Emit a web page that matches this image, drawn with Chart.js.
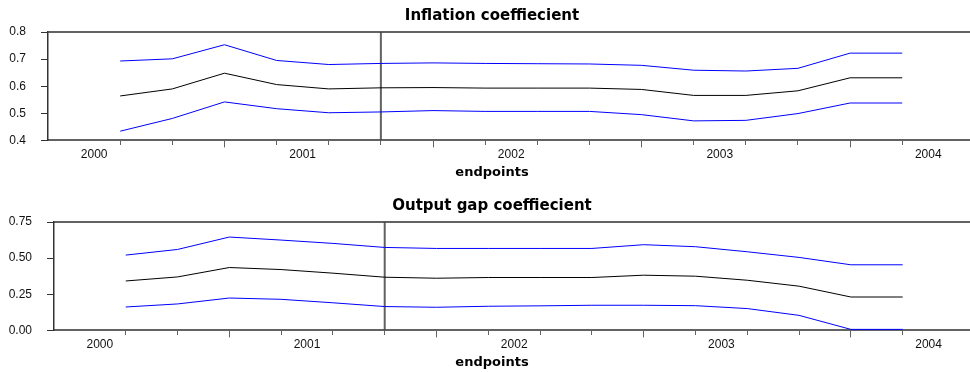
<!DOCTYPE html>
<html><head><meta charset="utf-8">
<script src="https://cdn.jsdelivr.net/npm/chart.js@4"></script>
<style>
html,body{margin:0;padding:0;background:#fff;width:970px;height:372px;overflow:hidden}
.panel{position:absolute;left:0;width:970px;height:182px}
canvas{display:block}
</style></head><body>
<div class="panel" style="top:0"><canvas id="c1" width="970" height="182"></canvas></div>
<div class="panel" style="top:190px"><canvas id="c2" width="970" height="182"></canvas></div>
<script>
// ---- data ----
const QUARTERS = ['2000Q3','2000Q4','2001Q1','2001Q2','2001Q3','2001Q4','2002Q1','2002Q2',
                  '2002Q3','2002Q4','2003Q1','2003Q2','2003Q3','2003Q4','2004Q1','2004Q2'];
const YEARS = ['2000','2001','2002','2003','2004'];
const MARKER_QUARTER = '2001Q4';

const INFL_UPPER = [0.693,0.701,0.753,0.695,0.680,0.684,0.686,0.684,0.683,0.682,0.677,0.659,0.656,0.666,0.722,0.722];
const INFL_MID   = [0.564,0.590,0.648,0.606,0.590,0.594,0.595,0.593,0.593,0.593,0.588,0.566,0.566,0.583,0.631,0.631];
const INFL_LOWER = [0.434,0.481,0.542,0.517,0.502,0.505,0.510,0.507,0.507,0.507,0.495,0.472,0.474,0.499,0.538,0.538];
const INFL_TICKS = [0.4,0.5,0.6,0.7,0.8];

const GAP_UPPER = [0.521,0.560,0.646,0.625,0.602,0.574,0.567,0.567,0.567,0.567,0.593,0.579,0.544,0.505,0.454,0.454];
const GAP_MID   = [0.342,0.370,0.435,0.421,0.396,0.368,0.361,0.366,0.366,0.366,0.382,0.375,0.347,0.306,0.231,0.231];
const GAP_LOWER = [0.162,0.183,0.224,0.215,0.191,0.165,0.160,0.167,0.170,0.174,0.174,0.171,0.151,0.104,0.007,0.007];
const GAP_TICKS = [0,0.25,0.5,0.75];

// ---- helpers ----
function qNum(label){ const y=+label.slice(0,4), q=+label.slice(5); return y*4+q-1; }
const Q0 = qNum(QUARTERS[0]);
function qPos(label){ return qNum(label)-Q0; }
function yearCenter(y){ return qPos(y+'Q1')+1.5; }
const YEAR_POS = YEARS.map(yearCenter);
const Q1_POS = QUARTERS.filter(q=>q.endsWith('Q1')).map(qPos);

const AXIS_COLOR = 'rgba(70,70,70,0.85)';
Chart.defaults.font.family = '"Liberation Sans", Arial, sans-serif';
Chart.defaults.color = '#111';

const frameTop = {
  id:'frameTop',
  afterDatasetsDraw(chart){
    const a = chart.chartArea, ctx = chart.ctx;
    ctx.save(); ctx.strokeStyle = AXIS_COLOR; ctx.lineWidth = 2;
    ctx.beginPath(); ctx.moveTo(a.left, a.top); ctx.lineTo(a.right, a.top); ctx.stroke();
    ctx.restore();
  }
};

function makeChart(id, title, upper, mid, lower, yTicks, decimals, yWidth){
  const ymin = yTicks[0], ymax = yTicks[yTicks.length-1];
  const toXY = arr => arr.map((v,i)=>({x:i, y:v}));
  const mk = qPos(MARKER_QUARTER);
  return new Chart(document.getElementById(id), {
    type:'line',
    data:{datasets:[
      {data:toXY(upper), borderColor:'#0000ff', borderWidth:1, pointRadius:0, tension:0},
      {data:toXY(mid), borderColor:'#000000', borderWidth:1, pointRadius:0, tension:0},
      {data:toXY(lower), borderColor:'#0000ff', borderWidth:1, pointRadius:0, tension:0},
      {data:[{x:mk,y:ymin},{x:mk,y:ymax}], borderColor:AXIS_COLOR, borderWidth:2, pointRadius:0}
    ]},
    options:{
      responsive:false, animation:false, devicePixelRatio:1,
      layout:{padding:{left:0,right:-14,top:0,bottom:0}},
      plugins:{
        legend:{display:false}, tooltip:{enabled:false},
        title:{display:true, text:title, color:'#000',
          font:{family:'"DejaVu Sans", sans-serif', weight:'bold', size:15, lineHeight:1.2},
          padding:{top:7,bottom:7}},
        subtitle:{display:true, position:'bottom', text:'endpoints', color:'#000',
          font:{family:'"DejaVu Sans", sans-serif', weight:'bold', size:13, lineHeight:1.2},
          padding:{top:4,bottom:2}}
      },
      scales:{
        x:{type:'linear', min:-1.385, max:16.3,
          afterBuildTicks(s){
            const t = QUARTERS.map((q,i)=>i).concat(YEAR_POS);
            t.sort((a,b)=>a-b);
            s.ticks = t.map(v=>({value:v}));
          },
          afterFit(s){ s.height = 20; },
          ticks:{autoSkip:false, maxRotation:0, padding:0, font:{size:12}, color:'#111',
            callback(v){ const k = YEAR_POS.indexOf(v); return k>=0 ? YEARS[k] : ''; }},
          grid:{drawOnChartArea:false, tickLength:7, tickWidth:1,
            tickColor(ctx){ return Number.isInteger(ctx.tick.value) ? AXIS_COLOR : 'rgba(0,0,0,0)'; },
            tickBorderDash(ctx){ return Q1_POS.includes(ctx.tick.value) ? [] : [4,20]; }},
          border:{display:true, color:AXIS_COLOR, width:2}
        },
        y:{min:ymin, max:ymax,
          afterBuildTicks(s){ s.ticks = yTicks.map(v=>({value:v})); },
          afterFit(s){ s.width = yWidth; },
          ticks:{padding:15, font:{size:12}, color:'#111',
            callback(v){ return Number(v).toFixed(decimals); }},
          grid:{drawOnChartArea:false, tickLength:7, tickWidth:1, tickColor:'#333'},
          border:{display:true, color:'#333', width:1.5}
        }
      }
    },
    plugins:[frameTop]
  });
}

makeChart('c1','Inflation coeffiecient', INFL_UPPER, INFL_MID, INFL_LOWER, INFL_TICKS, 1, 48);
makeChart('c2','Output gap coeffiecient', GAP_UPPER, GAP_MID, GAP_LOWER, GAP_TICKS, 2, 54);
</script>
</body></html>
